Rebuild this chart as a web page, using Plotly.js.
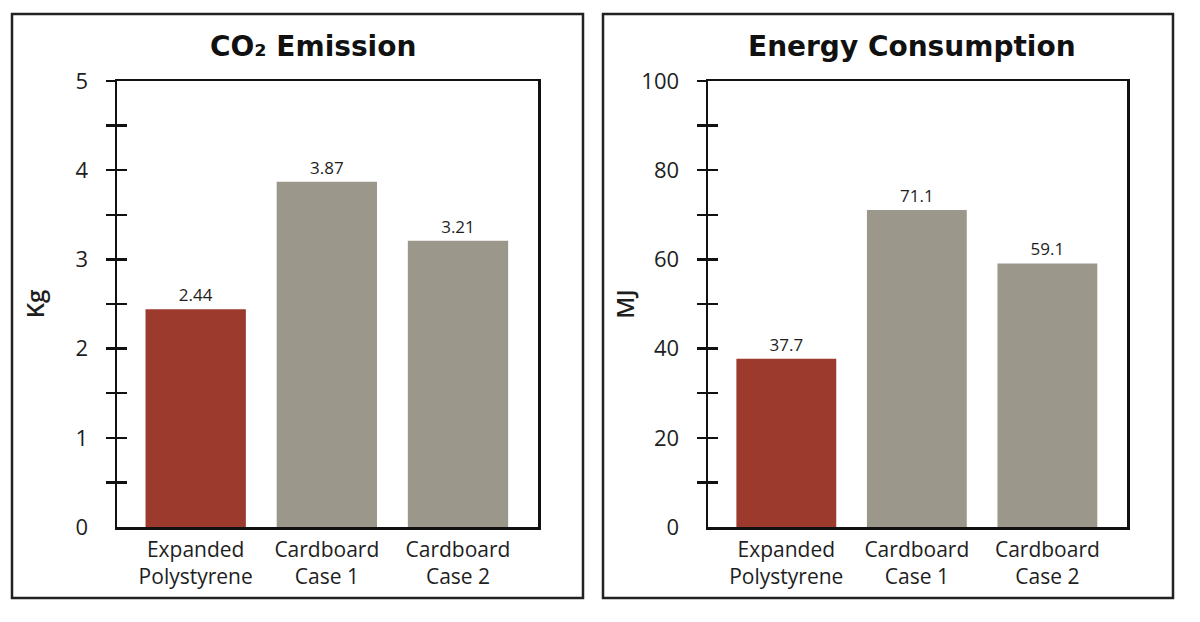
<!DOCTYPE html>
<html>
<head>
<meta charset="utf-8">
<script src="https://cdn.plot.ly/plotly-3.0.1.min.js"></script>
<style>
html,body{margin:0;padding:0;background:#ffffff;}
#chart{width:1200px;height:622px;}
</style>
</head>
<body>
<div id="chart"></div>
<script>
// ---- Data ----
const categories = ['Expanded<br>Polystyrene', 'Cardboard<br>Case 1', 'Cardboard<br>Case 2'];
const co2Values = [2.44, 3.87, 3.21];
const energyValues = [37.7, 71.1, 59.1];
const co2Ticks = [0, 1, 2, 3, 4, 5];
const energyTicks = [0, 20, 40, 60, 80, 100];
const titles = ['CO₂ Emission', 'Energy Consumption'];
const yTitles = ['Kg', 'MJ'];

// ---- Style ----
const barColors = ['#9d3a2e', '#9b978b', '#9b978b'];
const FONT = 'Open Sans, Liberation Sans, sans-serif';
const INK = '#1e1e1e';

function minorTicks(t) {
  const out = [];
  for (let i = 1; i < t.length; i++) { out.push((t[i - 1] + t[i]) / 2, t[i]); }
  return out;
}

function bar(values, xa, ya) {
  return {
    type: 'bar', x: [0, 1, 2], y: values, xaxis: xa, yaxis: ya,
    width: 0.765,
    marker: {color: barColors, line: {width: 0}},
    texttemplate: '%{y}', textposition: 'outside',
    textfont: {family: FONT, size: 17, color: INK},
    cliponaxis: false, hoverinfo: 'skip', showlegend: false
  };
}

const xRange = [-0.6, 2.61];
function xAxis(domain, anchor) {
  return {
    domain: domain, anchor: anchor, range: xRange,
    tickmode: 'array', tickvals: [0, 1, 2], ticktext: categories,
    showline: true, linewidth: 2.5, linecolor: '#111', mirror: true,
    ticks: '', showgrid: false, zeroline: false, fixedrange: true,
    tickfont: {family: FONT, size: 21, color: INK}, ticklabelstandoff: 2
  };
}
function yAxis(domain, anchor, ticks, title, standoff) {
  return {
    domain: domain, anchor: anchor, range: [ticks[0], ticks[ticks.length - 1]],
    tickmode: 'array', tickvals: ticks,
    showline: true, linewidth: 2.5, linecolor: '#111', mirror: true,
    ticks: '', showgrid: false, zeroline: false, fixedrange: true,
    tickfont: {family: FONT, size: 22, color: INK}, ticklabelstandoff: 22,
    title: {text: title, font: {family: FONT, size: 24, color: INK, weight: 600}, standoff: standoff}
  };
}
function tickAxis(over, anchor, ticks, side) {
  return {
    overlaying: over, anchor: anchor, range: [ticks[0], ticks[ticks.length - 1]],
    tickmode: 'array', tickvals: minorTicks(ticks),
    ticks: side, ticklen: 10, tickwidth: 2.5, tickcolor: '#111',
    showticklabels: false, showline: false, showgrid: false, zeroline: false, fixedrange: true
  };
}

const yDom = [95 / 622, 541 / 622];
const data = [
  bar(co2Values, 'x', 'y'),
  bar(energyValues, 'x2', 'y2'),
  {type: 'scatter', x: [], y: [], xaxis: 'x', yaxis: 'y3', showlegend: false},
  {type: 'scatter', x: [], y: [], xaxis: 'x', yaxis: 'y4', showlegend: false},
  {type: 'scatter', x: [], y: [], xaxis: 'x2', yaxis: 'y5', showlegend: false},
  {type: 'scatter', x: [], y: [], xaxis: 'x2', yaxis: 'y6', showlegend: false}
];

const layout = {
  width: 1200, height: 622,
  margin: {l: 0, r: 0, t: 0, b: 0},
  paper_bgcolor: '#ffffff', plot_bgcolor: 'rgba(0,0,0,0)',
  showlegend: false,
  xaxis: xAxis([117 / 1200, 538 / 1200], 'y'),
  yaxis: yAxis(yDom, 'x', co2Ticks, yTitles[0], 24),
  yaxis3: tickAxis('y', 'x', co2Ticks, 'outside'),
  yaxis4: tickAxis('y', 'x', co2Ticks, 'inside'),
  xaxis2: xAxis([708 / 1200, 1127 / 1200], 'y2'),
  yaxis2: yAxis(yDom, 'x2', energyTicks, yTitles[1], 0),
  yaxis5: tickAxis('y2', 'x2', energyTicks, 'outside'),
  yaxis6: tickAxis('y2', 'x2', energyTicks, 'inside'),
  shapes: [
    {type: 'rect', xref: 'paper', yref: 'paper', x0: 12 / 1200, x1: 583 / 1200, y0: 24 / 622, y1: 608 / 622,
     line: {color: '#222', width: 2.5}, fillcolor: 'rgba(0,0,0,0)', layer: 'below'},
    {type: 'rect', xref: 'paper', yref: 'paper', x0: 603 / 1200, x1: 1173 / 1200, y0: 24 / 622, y1: 608 / 622,
     line: {color: '#222', width: 2.5}, fillcolor: 'rgba(0,0,0,0)', layer: 'below'}
  ],
  annotations: [
    {text: titles[0], xref: 'paper', yref: 'paper', x: 313 / 1200, y: 576 / 622, showarrow: false,
     xanchor: 'center', yanchor: 'middle', font: {family: 'DejaVu Sans, sans-serif', size: 28, color: '#111', weight: 700}},
    {text: titles[1], xref: 'paper', yref: 'paper', x: 912 / 1200, y: 576 / 622, showarrow: false,
     xanchor: 'center', yanchor: 'middle', font: {family: 'DejaVu Sans, sans-serif', size: 28, color: '#111', weight: 700}}
  ]
};

Plotly.newPlot('chart', data, layout, {staticPlot: true, displayModeBar: false});
</script>
</body>
</html>
